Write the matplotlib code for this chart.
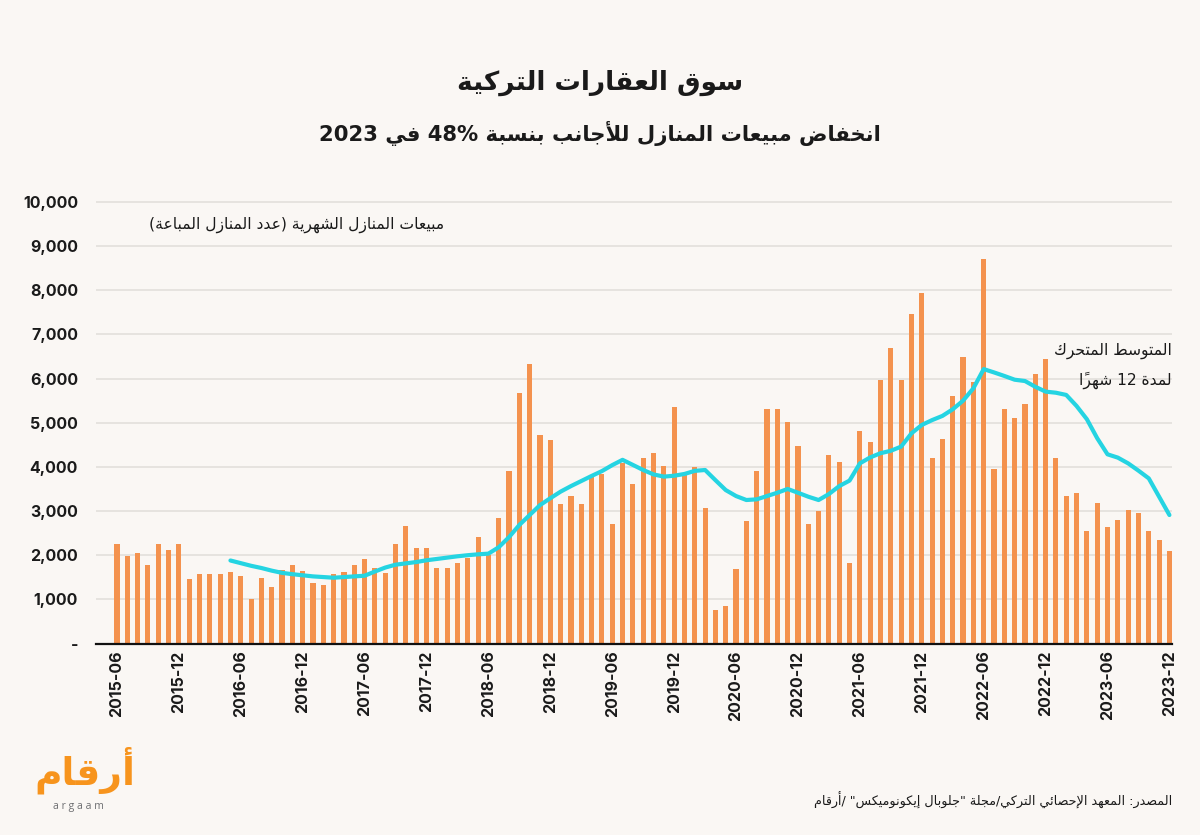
import re
import unicodedata
import matplotlib
matplotlib.use("Agg")
import matplotlib.pyplot as plt

# ---------------- data ----------------
start_year, start_month, n_months = 2015, 6, 103
months = []
for k in range(n_months):
    m = start_month - 1 + k
    months.append(f"{start_year + m // 12}-{m % 12 + 1:02d}")

sales = [2260, 1990, 2040, 1780, 2260, 2110, 2260, 1450, 1580, 1580, 1580, 1610,
         1540, 1010, 1490, 1270, 1670, 1780, 1640, 1360, 1320, 1570, 1610, 1780,
         1920, 1720, 1590, 2250, 2670, 2160, 2160, 1720, 1720, 1830, 1940, 2410,
         2000, 2850, 3910, 5670, 6340, 4720, 4610, 3170, 3340, 3170, 3780, 3850,
         2710, 4080, 3620, 4200, 4310, 4030, 5350, 3830, 3990, 3070, 770, 860,
         1680, 2770, 3910, 5310, 5310, 5010, 4480, 2710, 2990, 4280, 4120, 1820,
         4810, 4560, 5970, 6700, 5970, 7460, 7930, 4200, 4630, 5610, 6490, 5930,
         8710, 3960, 5310, 5110, 5430, 6100, 6450, 4200, 3340, 3420, 2540, 3180,
         2640, 2800, 3030, 2960, 2540, 2340, 2100]

ma_start = 11  # first month with a 12-month average (2016-05)
moving_avg = [1880, 1820, 1760, 1710, 1650, 1600, 1570, 1545, 1520, 1505, 1490, 1505,
              1520, 1535, 1630, 1720, 1785, 1815, 1845, 1885, 1915, 1945, 1975, 2000,
              2020, 2035, 2180, 2410, 2685, 2910, 3135, 3290, 3440, 3565, 3680, 3795,
              3905, 4040, 4160, 4045, 3930, 3830, 3780, 3800, 3840, 3910, 3930, 3700,
              3475, 3340, 3250, 3265, 3340, 3415, 3500, 3415, 3325, 3250, 3385, 3565,
              3690, 4080, 4215, 4310, 4365, 4460, 4760, 4950, 5060, 5155, 5305, 5500,
              5780, 6215, 6140, 6060, 5975, 5945, 5815, 5705, 5680, 5630, 5380, 5080,
              4650, 4285, 4210, 4080, 3915, 3740, 3325, 2910]

y_ticks = [0, 1000, 2000, 3000, 4000, 5000, 6000, 7000, 8000, 9000, 10000]
y_tick_labels = ["-", "1,000", "2,000", "3,000", "4,000", "5,000", "6,000",
                 "7,000", "8,000", "9,000", "10,000"]

title = "سوق العقارات التركية"
subtitle = "انخفاض مبيعات المنازل للأجانب بنسبة 48% في 2023"
bars_label = "مبيعات المنازل الشهرية (عدد المنازل المباعة)"
ma_label_1 = "المتوسط المتحرك"
ma_label_2 = "لمدة 12 شهراً"
source = 'المصدر: المعهد الإحصائي التركي/مجلة "جلوبال إيكونوميكس" /أرقام'
logo_ar = "أرقام"
logo_en = "a r g a a m"

# ---------------- Arabic shaping (presentation forms + RTL order) ----------------
_LETTERS = [('\u0621', 0xFE80, 1), ('\u0622', 0xFE81, 2), ('\u0623', 0xFE83, 2),
            ('\u0624', 0xFE85, 2), ('\u0625', 0xFE87, 2), ('\u0626', 0xFE89, 4),
            ('\u0627', 0xFE8D, 2), ('\u0628', 0xFE8F, 4), ('\u0629', 0xFE93, 2),
            ('\u062A', 0xFE95, 4), ('\u062B', 0xFE99, 4), ('\u062C', 0xFE9D, 4),
            ('\u062D', 0xFEA1, 4), ('\u062E', 0xFEA5, 4), ('\u062F', 0xFEA9, 2),
            ('\u0630', 0xFEAB, 2), ('\u0631', 0xFEAD, 2), ('\u0632', 0xFEAF, 2),
            ('\u0633', 0xFEB1, 4), ('\u0634', 0xFEB5, 4), ('\u0635', 0xFEB9, 4),
            ('\u0636', 0xFEBD, 4), ('\u0637', 0xFEC1, 4), ('\u0638', 0xFEC5, 4),
            ('\u0639', 0xFEC9, 4), ('\u063A', 0xFECD, 4), ('\u0641', 0xFED1, 4),
            ('\u0642', 0xFED5, 4), ('\u0643', 0xFED9, 4), ('\u0644', 0xFEDD, 4),
            ('\u0645', 0xFEE1, 4), ('\u0646', 0xFEE5, 4), ('\u0647', 0xFEE9, 4),
            ('\u0648', 0xFEED, 2), ('\u0649', 0xFEEF, 2), ('\u064A', 0xFEF1, 4)]
_FORMS = {c: (b, n) for c, b, n in _LETTERS}
_LAMALEF = {'\u0622': 0xFEF5, '\u0623': 0xFEF7, '\u0625': 0xFEF9, '\u0627': 0xFEFB}
_MIRROR = {'(': ')', ')': '(', '[': ']', ']': '['}


def _jt(c):
    if c in _FORMS:
        n = _FORMS[c][1]
        return 'D' if n == 4 else ('R' if n == 2 else 'U')
    if unicodedata.combining(c):
        return 'T'
    return 'U'


def _shape(text):
    toks = []
    i = 0
    while i < len(text):
        c = text[i]
        if c == '\u0644' and i + 1 < len(text) and text[i + 1] in _LAMALEF:
            toks.append(('LA', text[i + 1]))
            i += 2
        else:
            toks.append(('C', c))
            i += 1
    types = ['R' if t == 'LA' else _jt(c) for t, c in toks]
    out = []
    for k, (t, c) in enumerate(toks):
        p = k - 1
        while p >= 0 and types[p] == 'T':
            p -= 1
        q = k + 1
        while q < len(toks) and types[q] == 'T':
            q += 1
        pj = p >= 0 and types[p] == 'D'
        nj = q < len(toks) and types[q] in ('D', 'R')
        if t == 'LA':
            out.append(chr(_LAMALEF[c] + (1 if pj else 0)))
            continue
        ty = types[k]
        if c not in _FORMS:
            out.append(c)
            continue
        base = _FORMS[c][0]
        if ty == 'D':
            off = 3 if (pj and nj) else 1 if pj else 2 if nj else 0
        elif ty == 'R':
            off = 1 if pj else 0
        else:
            off = 0
        out.append(chr(base + off))
    return ''.join(out)


def ar(text):
    s = _shape(text)
    parts = re.split(r'([0-9A-Za-z][0-9A-Za-z%.,]*)', s)
    vis = []
    for idx, part in enumerate(parts):
        if idx % 2 == 1:
            vis.append(part)
            continue
        clusters = []
        for ch in part:
            if unicodedata.combining(ch) and clusters:
                clusters[-1] += ch
            else:
                clusters.append(_MIRROR.get(ch, ch))
        vis.append(''.join(reversed(clusters)))
    return ''.join(reversed(vis))


# ---------------- figure ----------------
BG = '#FAF7F4'
BAR = '#F4924E'
LINE = '#25D4E2'
INK = '#1A1A1A'
AR_FONT = ['DejaVu Sans']
NUM_FONT = ['Inter', 'DejaVu Sans']

fig = plt.figure(figsize=(12, 8.35), dpi=100, facecolor=BG)
ax_left, ax_right = 96 / 1200, 1172 / 1200
y0_px, y10k_px = 643.5, 202.0
ymax = 10100
px_per_unit = (y0_px - y10k_px) / 10000
top_px = y0_px - ymax * px_per_unit
ax = fig.add_axes([ax_left, 1 - y0_px / 835, ax_right - ax_left, (y0_px - top_px) / 835])
ax.set_facecolor(BG)

x = list(range(n_months))
ax.bar(x, sales, width=0.5, color=BAR, zorder=2)
ax.plot(x[ma_start:], moving_avg, color=LINE, lw=3.0, zorder=3,
        solid_capstyle='round', solid_joinstyle='round')

ax.set_xlim(-2.03, 102.25)
ax.set_ylim(0, ymax)
ax.set_yticks(y_ticks)
ax.set_yticklabels(y_tick_labels)
ax.yaxis.grid(True, color='#E4E1DD', lw=1.3, zorder=0)
ax.set_axisbelow(True)
ax.tick_params(axis='y', length=0, pad=13)
ax.tick_params(axis='x', length=0, pad=5)
tick_pos = x[::6]
ax.set_xticks(tick_pos)
ax.set_xticklabels([months[i] for i in tick_pos], rotation=90, va='top', ha='center')
for lab in ax.get_xticklabels() + ax.get_yticklabels():
    lab.set_fontfamily(NUM_FONT)
    lab.set_fontweight('bold')
    lab.set_fontsize(11.5)
    lab.set_color(INK)
for side in ('top', 'right', 'left'):
    ax.spines[side].set_visible(False)
ax.spines['bottom'].set_color('#111111')
ax.spines['bottom'].set_linewidth(1.6)
ax.spines['bottom'].set_zorder(4)

# texts
fig.text(0.5, 1 - 83 / 835, ar(title), ha='center', va='center', fontsize=19,
         fontweight='bold', family=AR_FONT, color=INK)
fig.text(0.5, 1 - 133 / 835, ar(subtitle), ha='center', va='center', fontsize=15.2,
         fontweight='bold', family=AR_FONT, color=INK)
fig.text(297 / 1200, 1 - 225 / 835, ar(bars_label), ha='center', va='center',
         fontsize=11.2, family=AR_FONT, color=INK)
fig.text(1172 / 1200, 1 - 351 / 835, ar(ma_label_1), ha='right', va='center',
         fontsize=11.2, family=AR_FONT, color=INK)
fig.text(1172 / 1200, 1 - 380 / 835, ar(ma_label_2), ha='right', va='center',
         fontsize=11.2, family=AR_FONT, color=INK)
fig.text(1172 / 1200, 1 - 800 / 835, ar(source), ha='right', va='center',
         fontsize=9.2, family=AR_FONT, color=INK)

# logo
fig.text(85 / 1200, 1 - 770 / 835, ar(logo_ar), ha='center', va='center',
         fontsize=27, fontweight='bold', family=AR_FONT, color='#F7941D')
fig.text(78 / 1200, 1 - 806 / 835, logo_en, ha='center', va='center',
         fontsize=7.5, family=['Open Sans', 'DejaVu Sans'], color='#6D6E71')

fig.savefig('out.png', dpi=100, facecolor=BG)
